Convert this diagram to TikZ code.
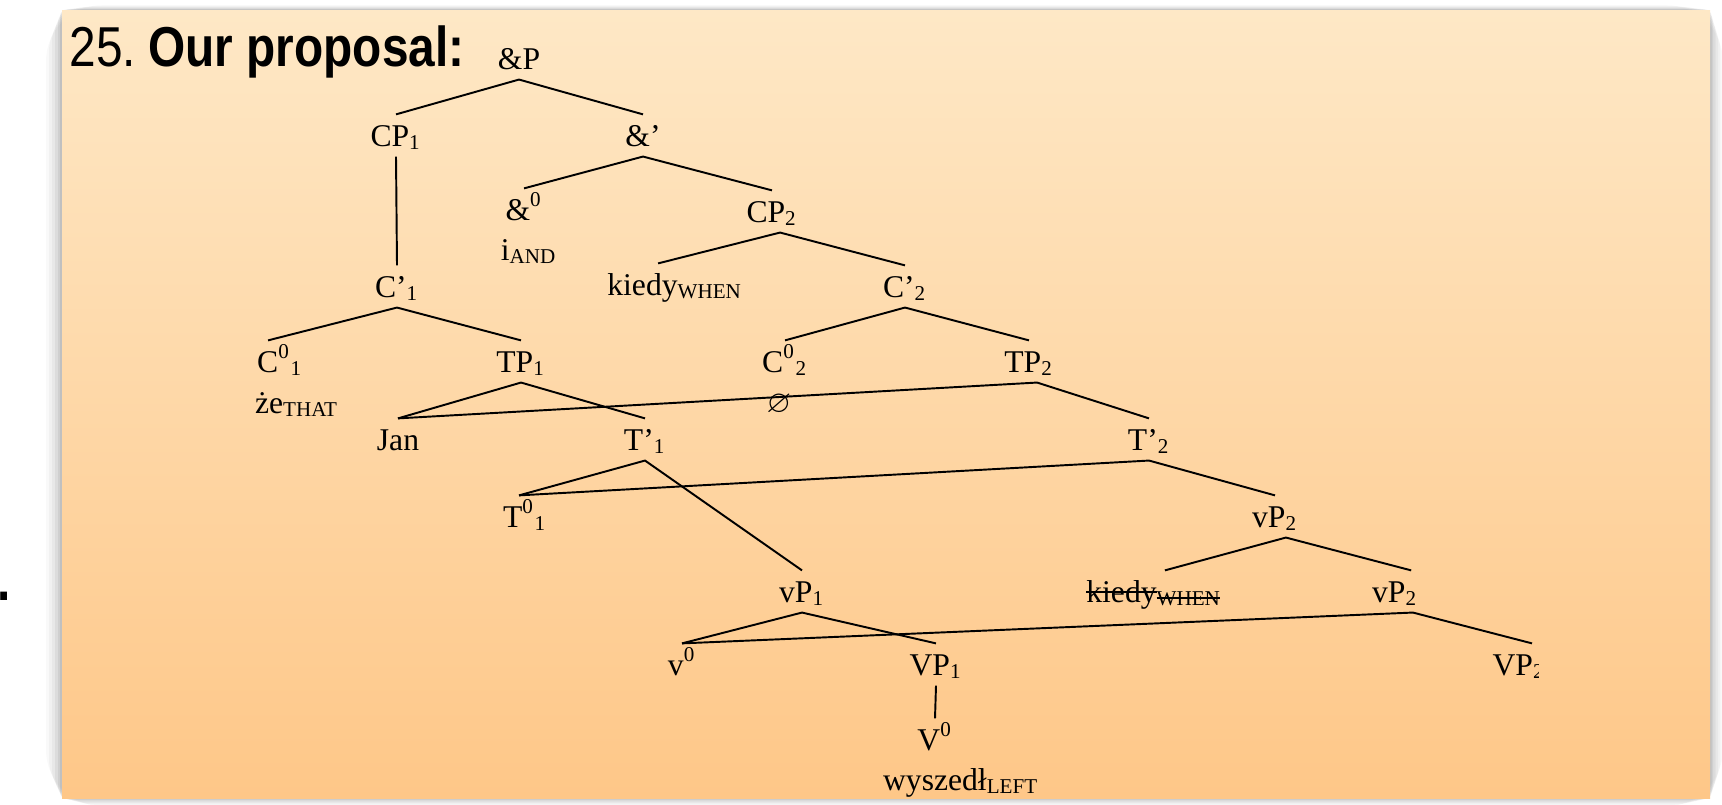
\documentclass[tikz,border=0pt]{standalone}
\usepackage{fontspec}
\usepackage{amssymb}
\setmainfont{Liberation Serif}
\newfontfamily\titlefont[FakeStretch=0.85]{Liberation Sans}
\usetikzlibrary{positioning}
\definecolor{paneltop}{RGB}{254,232,198}
\definecolor{panelbot}{RGB}{254,199,136}
\newlength\strklen
\newcommand\strk[1]{\settowidth{\strklen}{#1}\rlap{\rule[0.3em]{\strklen}{0.5pt}}#1}

\begin{document}
\begin{tikzpicture}[
    x=0.1mm, y=-0.1mm,
    cat/.style={anchor=base, inner sep=0pt, text height=8.8pt, text depth=2.8pt, font=\fontsize{9}{10}\selectfont},
    word/.style={anchor=base, inner sep=0pt, font=\fontsize{9}{10}\selectfont},
    branch/.style={line width=0.55pt}
]
\useasboundingbox (0,0) rectangle (1722,804);

% Panel
\foreach \s/\o in {16/0.025, 13/0.03, 10/0.04, 7/0.05, 4/0.06, 2/0.07} {
  \fill[black, opacity=\o, rounded corners=\s] (62-\s,10-\s*0.3) rectangle (1710+\s*0.8,798+\s*0.5);
}
\shade[top color=paneltop, bottom color=panelbot] (62,10) rectangle (1710,798);

% Title
\node[anchor=base west, inner sep=0pt, font=\titlefont\fontsize{16}{18}\selectfont] (title) at (69,66) {25.\kern3.5pt\textbf{Our proposal:}};
\node[anchor=base west, inner sep=0pt, font=\titlefont\bfseries\fontsize{16}{18}\selectfont] (dot) at (-3,600) {.};

% Nodes
\node[cat] (andp) at (519,69) {\&P};
\node[cat] (cpa) at (396,146) {CP\textsubscript{1}};
\node[cat] (andbar) at (643,146) {\&’};
\node[cat] (andzero) at (524,220) {\&\textsuperscript{0}};
\node[word] (iand) at (529,260) {i\textsubscript{AND}};
\node[cat] (cpb) at (772,222) {CP\textsubscript{2}};
\node[cat] (cbara) at (397,297) {C’\textsubscript{1}};
\node[cat] (kiedya) at (675,295) {kiedy\textsubscript{WHEN}};
\node[cat] (cbarb) at (905,297) {C’\textsubscript{2}};
\node[cat] (czeroa) at (280,372) {C\textsuperscript{0}\textsubscript{1}};
\node[word] (zeword) at (297,413) {że\textsubscript{THAT}};
\node[cat] (tpa) at (521,372) {TP\textsubscript{1}};
\node[cat] (czerob) at (785,372) {C\textsuperscript{0}\textsubscript{2}};
\node[word] (nullc) at (779,412) {$\varnothing$};
\node[cat] (tpb) at (1029,372) {TP\textsubscript{2}};
\node[cat] (jan) at (398,450) {Jan};
\node[cat] (tbara) at (645,450) {T’\textsubscript{1}};
\node[cat] (tbarb) at (1149,450) {T’\textsubscript{2}};
\node[cat] (tzeroa) at (525,527) {T\textsuperscript{0}\textsubscript{1}};
\node[cat] (vpb) at (1275,527) {vP\textsubscript{2}};
\node[cat] (vpa) at (802,602) {vP\textsubscript{1}};
\node[cat] (kiedyb) at (1154,602) {\strk{kiedy}\textsubscript{\strk{WHEN}}};
\node[cat] (vpc) at (1395,602) {vP\textsubscript{2}};
\node[cat] (vzero) at (682,675) {v\textsuperscript{0}};
\node[cat] (bigvpa) at (936,675) {VP\textsubscript{1}};
\begin{scope}
  \clip (1420,600) rectangle (1538,720);
  \node[cat] (bigvpb) at (1519,675) {VP\textsubscript{2}};
\end{scope}
\node[cat] (bigvzero) at (935,750) {V\textsuperscript{0}};
\node[word] (wyszedl) at (961,790) {wyszedł\textsubscript{LEFT}};

% Branches
\draw[branch] (cpa.north) -- (andp.south) -- (andbar.north);
\draw[branch] (andzero.north) -- (andbar.south) -- (cpb.north);
\draw[branch] (cpa.south) -- (cbara.north);
\draw[branch] ([xshift=-4.8pt]kiedya.north) -- ([xshift=2.3pt]cpb.south) -- (cbarb.north);
\draw[branch] ([xshift=-3.4pt]czeroa.north) -- (cbara.south) -- (tpa.north);
\draw[branch] (czerob.north) -- (cbarb.south) -- (tpb.north);
\draw[branch] (jan.north) -- (tpa.south) -- (tbara.north);
\draw[branch] (jan.north) -- ([xshift=2.3pt]tpb.south) -- (tbarb.north);
\draw[branch] ([xshift=-1.7pt]tzeroa.north) -- (tbara.south) -- (vpa.north);
\draw[branch] ([xshift=-1.7pt]tzeroa.north) -- (tbarb.south) -- (vpb.north);
\draw[branch] ([xshift=3.1pt]kiedyb.north) -- ([xshift=3.1pt]vpb.south) -- ([xshift=4.6pt]vpc.north);
\draw[branch] (vzero.north) -- (vpa.south) -- (bigvpa.north);
\draw[branch] (vzero.north) -- ([xshift=5.1pt]vpc.south) -- ([xshift=3.7pt]bigvpb.north);
\draw[branch] (bigvpa.south) -- (bigvzero.north);

\end{tikzpicture}
\end{document}
